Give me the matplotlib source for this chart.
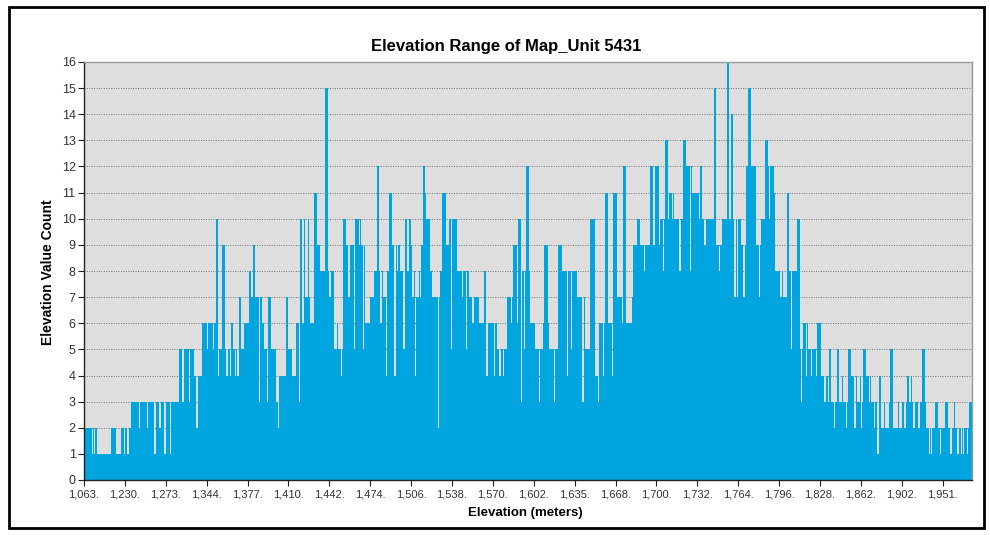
import matplotlib
matplotlib.use('Agg')
import matplotlib.pyplot as plt
import matplotlib.transforms as mtransforms
from matplotlib.patches import Rectangle

plt.rcParams['font.family'] = ['Liberation Sans', 'DejaVu Sans']

# Counts per elevation value (32 bars per axis label)
counts = [
    2, 2, 2, 2, 2, 2, 1, 2, 1, 2, 1, 1, 1, 1, 1, 1, 1, 1, 1, 1, 1, 2, 2, 2, 2, 1, 1, 1, 1, 2, 2, 1,
    2, 2, 1, 2, 2, 3, 3, 3, 3, 3, 3, 2, 3, 3, 3, 3, 3, 2, 3, 3, 3, 3, 3, 1, 3, 3, 3, 2, 3, 3, 3, 1,
    3, 3, 3, 1, 3, 3, 3, 3, 3, 3, 5, 5, 5, 3, 5, 5, 5, 5, 3, 5, 5, 5, 4, 4, 2, 4, 4, 4, 6, 6, 6, 6,
    5, 6, 6, 6, 6, 5, 6, 10, 10, 4, 5, 5, 9, 9, 5, 4, 4, 5, 4, 6, 6, 5, 4, 5, 4, 7, 7, 5, 5, 6, 6, 6,
    6, 8, 8, 7, 9, 9, 7, 7, 7, 3, 7, 6, 6, 5, 5, 3, 7, 7, 5, 5, 5, 5, 3, 3, 2, 4, 4, 4, 4, 4, 7, 7,
    5, 5, 5, 4, 4, 4, 6, 6, 3, 10, 10, 6, 10, 7, 7, 10, 7, 6, 6, 6, 11, 11, 9, 9, 9, 8, 8, 8, 8, 15, 15, 8,
    7, 8, 8, 8, 5, 5, 6, 5, 5, 4, 5, 10, 10, 9, 9, 7, 9, 9, 9, 5, 10, 10, 10, 9, 10, 9, 5, 9, 6, 6, 6, 6,
    7, 7, 7, 8, 8, 12, 12, 8, 6, 8, 7, 7, 4, 8, 8, 11, 11, 9, 9, 4, 9, 8, 9, 8, 8, 8, 5, 10, 10, 8, 10, 10,
    9, 7, 8, 4, 7, 7, 8, 7, 9, 12, 12, 11, 10, 10, 10, 8, 7, 7, 7, 7, 7, 2, 7, 8, 11, 11, 11, 9, 9, 9, 10, 5,
    10, 10, 10, 10, 8, 8, 8, 8, 7, 8, 8, 5, 8, 7, 7, 7, 6, 7, 7, 7, 7, 6, 6, 6, 6, 8, 8, 4, 6, 6, 6, 6,
    6, 4, 6, 5, 5, 4, 5, 5, 4, 5, 5, 7, 7, 7, 6, 7, 9, 9, 9, 6, 10, 10, 3, 8, 5, 8, 12, 12, 8, 6, 6, 6,
    6, 5, 5, 5, 3, 5, 5, 6, 9, 9, 9, 6, 5, 5, 5, 5, 3, 5, 5, 9, 9, 9, 8, 8, 8, 8, 4, 8, 8, 5, 8, 8,
    8, 8, 7, 7, 7, 7, 3, 7, 5, 5, 5, 5, 10, 10, 10, 10, 4, 4, 3, 6, 6, 6, 4, 6, 11, 11, 6, 6, 6, 4, 11, 11,
    11, 7, 7, 7, 7, 6, 12, 12, 6, 6, 6, 6, 6, 7, 9, 9, 9, 10, 10, 9, 9, 9, 8, 9, 9, 9, 9, 12, 12, 9, 9, 12,
    12, 12, 9, 10, 10, 8, 10, 13, 13, 10, 11, 11, 10, 11, 10, 10, 10, 10, 8, 10, 10, 13, 13, 12, 12, 12, 8, 12, 11, 11, 11, 11,
    11, 10, 12, 12, 10, 9, 9, 10, 10, 10, 10, 10, 10, 15, 15, 9, 9, 8, 9, 10, 10, 10, 10, 16, 16, 10, 14, 14, 10, 7, 10, 7,
    10, 10, 9, 9, 7, 9, 12, 12, 15, 15, 12, 12, 12, 12, 9, 9, 7, 9, 10, 10, 10, 13, 13, 12, 10, 12, 12, 12, 11, 8, 8, 8,
    8, 7, 8, 7, 7, 7, 11, 11, 8, 5, 8, 8, 8, 8, 10, 10, 5, 3, 5, 6, 6, 4, 6, 5, 5, 4, 5, 5, 5, 4, 6, 6,
    6, 4, 4, 3, 3, 4, 3, 5, 5, 3, 3, 2, 3, 5, 5, 3, 3, 4, 3, 3, 2, 3, 5, 5, 4, 4, 4, 2, 4, 3, 3, 4,
    2, 3, 5, 5, 4, 4, 3, 4, 3, 3, 2, 3, 3, 1, 4, 4, 2, 2, 3, 2, 2, 2, 3, 5, 5, 2, 2, 2, 2, 3, 2, 2,
    3, 3, 2, 3, 4, 4, 3, 4, 3, 2, 3, 3, 3, 2, 3, 3, 5, 5, 3, 2, 2, 1, 2, 1, 2, 2, 3, 3, 2, 2, 1, 2,
    2, 2, 3, 3, 2, 2, 1, 2, 2, 3, 2, 1, 1, 2, 1, 2, 1, 2, 2, 1, 2, 3, 3,
]

# Axis labels (one every 32 bars)
tick_labels = ['1,063.', '1,230.', '1,273.', '1,344.', '1,377.', '1,410.',
               '1,442.', '1,474.', '1,506.', '1,538.', '1,570.', '1,602.',
               '1,635.', '1,668.', '1,700.', '1,732.', '1,764.', '1,796.',
               '1,828.', '1,862.', '1,902.', '1,951.']
bars_per_label = 32

fig = plt.figure(figsize=(9.9, 5.35), dpi=100)
ax = fig.add_axes([84 / 990, 55 / 535, 888 / 990, 418 / 535])

ax.bar(range(len(counts)), counts, width=1.0, color='#00A4DE',
       linewidth=0, antialiased=False, zorder=2)
ax.set_xlim(-0.5, len(counts) - 0.5)
ax.set_ylim(0, 16)
ax.set_yticks(range(17))
ax.set_facecolor('#DEDEDE')
ax.yaxis.grid(True, linestyle=(0, (1, 1.5)), color='#6E6E6E',
              linewidth=0.7)
ax.set_axisbelow(True)

# Ticks on group boundaries, labels shifted a bit to the left
ax.set_xticks([i * bars_per_label - 0.5 for i in range(len(tick_labels))])
ax.set_xticklabels(tick_labels, fontsize=8, color='#333333')
for i, lab in enumerate(ax.get_xticklabels()):
    dx = -6 if i == 0 else -17
    lab.set_transform(lab.get_transform() + mtransforms.ScaledTranslation(
        dx / 100, 0, fig.dpi_scale_trans))
ax.tick_params(axis='both', direction='out', length=4, width=0.8,
               color='#222222')
ax.tick_params(axis='y', labelsize=9, labelcolor='#333333', pad=2)
ax.tick_params(axis='x', pad=3)

for side in ['left', 'bottom']:
    ax.spines[side].set_color('#222222')
    ax.spines[side].set_linewidth(1)
for side in ['top', 'right']:
    ax.spines[side].set_color('#9A9A9A')
    ax.spines[side].set_linewidth(1)

# Titles
fig.text(506 / 990, 1 - 47 / 535, 'Elevation Range of Map_Unit 5431',
         ha='center', va='center', fontsize=12, fontweight='bold')
fig.text(48 / 990, 1 - 272 / 535, 'Elevation Value Count', rotation=90,
         ha='center', va='center', fontsize=10, fontweight='bold')
fig.text(525 / 990, 1 - 513 / 535, 'Elevation (meters)',
         ha='center', va='center', fontsize=9.5, fontweight='bold')

# Black frame round the picture
fig.add_artist(Rectangle((9 / 990, 7 / 535), 975 / 990, 521 / 535,
                         transform=fig.transFigure, fill=False,
                         edgecolor='black', linewidth=2))

fig.savefig('out.png', dpi=100)
